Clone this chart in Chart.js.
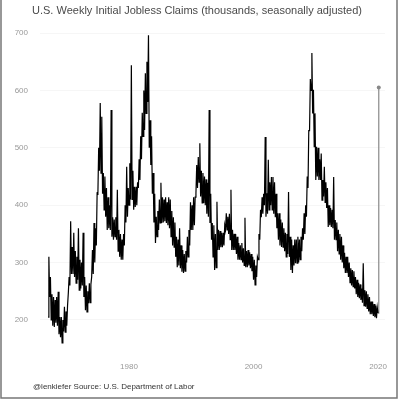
<!DOCTYPE html>
<html>
<head>
<meta charset="utf-8">
<script src="https://cdn.jsdelivr.net/npm/chart.js@4/dist/chart.umd.min.js"></script>
<style>
  html, body { margin: 0; padding: 0; background: #fff; }
  #wrap { width: 400px; height: 400px; }
</style>
</head>
<body>
<div id="wrap"><canvas id="claims" width="400" height="400"></canvas></div>
<script>
// weekly claims: low/high of the band, eight readings per year from 1967.0
var startYear = 1967;
var step = 0.125;
var claims1960s = [
  205, 310, 240, 275, 200, 245, 190, 240,
  188, 235, 195, 240, 190, 249, 175, 205,
  170, 205, 160, 200, 180, 223, 179, 215];
var claims1970s = [
  190, 225, 247, 275, 260, 372, 280, 327,
  280, 352, 275, 320, 264, 310, 270, 360,
  252, 305, 255, 300, 260, 352, 240, 275,
  217, 260, 214, 250, 229, 264, 230, 262,
  275, 322, 280, 369, 300, 360, 330, 421,
  420, 500, 460, 578, 456, 554, 420, 456,
  392, 450, 380, 430, 357, 414, 360, 400,
  357, 566, 345, 379, 340, 375, 345, 379,
  340, 427, 320, 357, 310, 350, 305, 340,
  305, 350, 330, 400, 370, 467, 380, 430];
var claims1980s = [
  400, 473, 410, 644, 410, 460, 392, 432,
  397, 432, 400, 440, 430, 480, 444, 520,
  480, 561, 520, 600, 531, 630, 560, 650,
  580, 696, 500, 548, 470, 520, 420, 456,
  370, 420, 334, 380, 345, 390, 357, 410,
  369, 439, 369, 414, 370, 410, 372, 414,
  369, 405, 365, 414, 360, 410, 345, 390,
  330, 379, 327, 370, 310, 345, 292, 340,
  295, 360, 290, 330, 284, 322, 282, 315,
  285, 320, 300, 345, 310, 357, 330, 405];
var claims1990s = [
  357, 400, 357, 414, 365, 414, 421, 470,
  430, 484, 440, 508, 415, 460, 404, 456,
  404, 450, 400, 445, 385, 439, 380, 566,
  369, 420, 340, 369, 310, 365, 287, 350,
  291, 406, 322, 357, 322, 355, 327, 352,
  327, 352, 330, 365, 357, 386, 357, 380,
  350, 385, 340, 427, 322, 357, 322, 350,
  322, 350, 315, 345, 305, 334, 305, 330,
  305, 334, 300, 325, 295, 378, 292, 320,
  292, 322, 295, 318, 290, 315, 285, 310];
var claims2000s = [
  270, 305, 261, 295, 275, 310, 305, 350,
  340, 392, 379, 414, 385, 420, 400, 519,
  380, 421, 385, 479, 392, 440, 400, 449,
  392, 449, 385, 440, 379, 420, 360, 386,
  340, 386, 330, 375, 327, 370, 327, 360,
  320, 352, 310, 350, 315, 423, 310, 345,
  287, 340, 282, 330, 295, 340, 299, 340,
  299, 345, 300, 340, 305, 345, 320, 360,
  340, 386, 350, 400, 380, 450, 430, 530,
  530, 620, 600, 665, 560, 601, 502, 560];
var claims2010s = [
  444, 502, 450, 500, 444, 480, 444, 490,
  409, 444, 415, 467, 405, 440, 395, 430,
  362, 400, 365, 395, 362, 392, 360, 449,
  340, 374, 340, 370, 320, 357, 315, 350,
  305, 345, 300, 330, 290, 317, 282, 310,
  282, 310, 275, 300, 265, 290, 260, 287,
  258, 285, 255, 275, 245, 270, 240, 265,
  238, 262, 235, 255, 230, 299, 225, 252,
  223, 250, 220, 245, 215, 240, 210, 232,
  210, 232, 207, 228, 205, 225, 203, 222,
  212];
// latest reading shown in grey
var latestYears = [2020.0, 2020.12];
var latestClaims = [212, 605];

var yTicks = [200, 300, 400, 500, 600, 700];
var xTicks = [1980, 2000, 2020];

var allClaims = [].concat(claims1960s, claims1970s, claims1980s, claims1990s, claims2000s, claims2010s);
var series = [];
for (var i = 0; i < allClaims.length; i++) {
  series.push({ x: startYear + i * step, y: allClaims[i] });
}
var latest = [];
for (var j = 0; j < latestYears.length; j++) {
  latest.push({ x: latestYears[j], y: latestClaims[j] });
}

// titel, quelle und rahmen
var textPlugin = {
  id: 'texte',
  afterDraw: function(chart) {
    var c = chart.ctx;
    c.save();
    c.fillStyle = '#4a4a4a';
    c.font = '11px "Liberation Sans", Arial, sans-serif';
    c.textAlign = 'center';
    c.textBaseline = 'middle';
    c.fillText('U.S. Weekly Initial Jobless Claims (thousands, seasonally adjusted)', 197, 11);
    c.fillStyle = '#333';
    c.font = '8px "Liberation Sans", Arial, sans-serif';
    c.textAlign = 'left';
    c.fillText('@lenkiefer Source: U.S. Department of Labor', 33, 387);
    c.strokeStyle = '#777';
    c.lineWidth = 1.5;
    c.beginPath();
    c.moveTo(1, 0);
    c.lineTo(1, 398);
    c.lineTo(397, 398);
    c.lineTo(397, 0);
    c.stroke();
    c.restore();
  }
};

var ctx = document.getElementById('claims');
var myChart = new Chart(ctx, {
  type: 'line',
  data: {
    datasets: [
      {
        data: series,
        borderColor: '#000',
        borderWidth: 1.2,
        pointRadius: 0,
        tension: 0
      },
      {
        data: latest,
        borderColor: '#888',
        borderWidth: 1.2,
        pointRadius: [0, 2],
        pointBackgroundColor: '#888',
        pointBorderWidth: 0,
        tension: 0
      }
    ]
  },
  options: {
    responsive: false,
    animation: false,
    devicePixelRatio: 1,
    layout: {
      padding: { top: 25, left: 0, right: 15, bottom: 0 }
    },
    plugins: {
      legend: { display: false },
      tooltip: { enabled: false }
    },
    scales: {
      x: {
        type: 'linear',
        min: 1965.7,
        max: 2021.12,
        border: { display: false },
        grid: { display: false, drawTicks: false },
        ticks: {
          color: '#999',
          font: { size: 8, family: '"Liberation Sans", Arial, sans-serif' },
          padding: 12,
          maxRotation: 0,
          callback: function(v) { return String(v); }
        },
        afterBuildTicks: function(scale) {
          scale.ticks = xTicks.map(function(v) { return { value: v }; });
        },
        afterFit: function(scale) { scale.height = 50; }
      },
      y: {
        min: 147.7,
        max: 714,
        border: { display: false },
        grid: { color: 'rgba(0,0,0,0.035)', drawTicks: false },
        ticks: {
          color: '#999',
          font: { size: 8, family: '"Liberation Sans", Arial, sans-serif' },
          padding: 12
        },
        afterBuildTicks: function(scale) {
          scale.ticks = yTicks.map(function(v) { return { value: v }; });
        },
        afterFit: function(scale) { scale.width = 40; }
      }
    }
  },
  plugins: [textPlugin]
});
</script>
</body>
</html>
